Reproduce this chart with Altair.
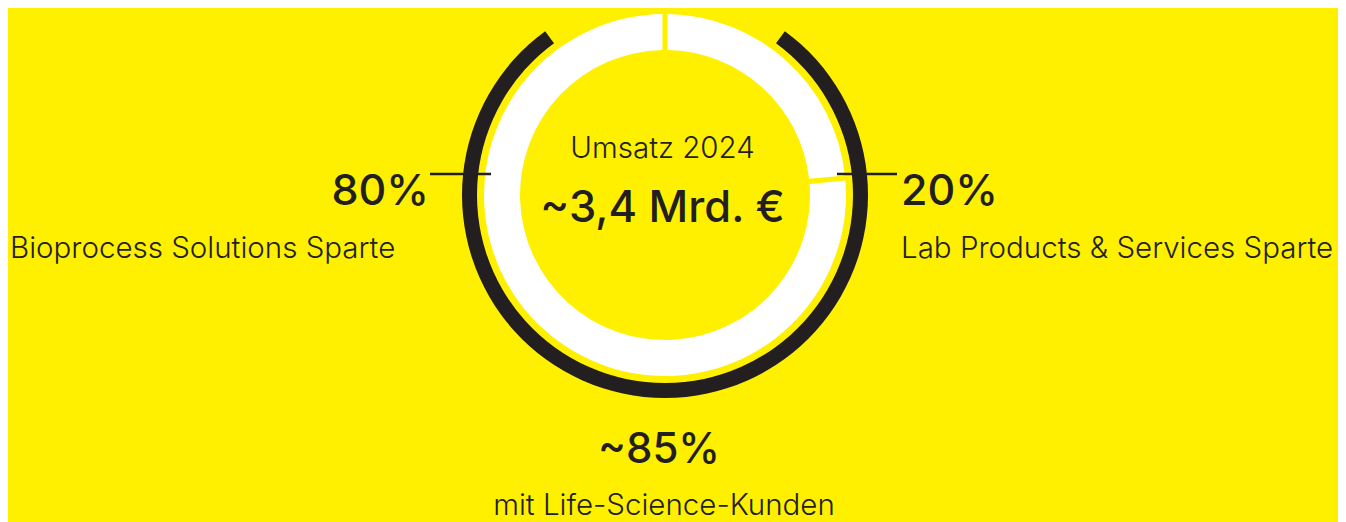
import math
import altair as alt
import pandas as pd

# ---- data ----
segments = ["Lab Products & Services", "Bioprocess Solutions"]
segment_share = [23.5, 76.5]          # share of the white ring as drawn
segment_order = [1, 2]

ring_parts = ["Lücke A", "Life-Science-Kunden", "Lücke B"]
ring_share = [10.05, 79.9, 10.05]      # black outer ring as drawn
ring_order = [1, 2, 3]

center_title = "Umsatz 2024"
center_value = "~3,4 Mrd. €"
left_pct = "80%"
left_label = "Bioprocess Solutions Sparte"
right_pct = "20%"
right_label = "Lab Products & Services Sparte"
bottom_pct = "~85%"
bottom_label = "mit Life-Science-Kunden"

YELLOW = "#FFF000"
DARK = "#231F20"
FONT = "Inter"

CX, CY = 657, 187
theta_scale = alt.Scale(domain=[0, 100], range=[0, 2 * math.pi])

seg_df = pd.DataFrame({"part": segments, "share": segment_share, "ord": segment_order})
ring_df = pd.DataFrame({"part": ring_parts, "share": ring_share, "ord": ring_order})

white = (
    alt.Chart(seg_df)
    .transform_stack(stack="share", as_=["t0", "t1"], groupby=[], sort=[alt.SortField("ord")])
    .mark_arc(radius=181, radius2=145, padAngle=0.022, color="#FFFFFF")
    .encode(
        theta=alt.Theta("t0:Q", scale=theta_scale),
        theta2="t1:Q",
        x=alt.value(CX),
        y=alt.value(CY),
    )
)

black = (
    alt.Chart(ring_df)
    .transform_stack(stack="share", as_=["t0", "t1"], groupby=[], sort=[alt.SortField("ord")])
    .transform_filter(alt.datum.part == "Life-Science-Kunden")
    .mark_arc(radius=203, radius2=188, color=DARK)
    .encode(
        theta=alt.Theta("t0:Q", scale=theta_scale),
        theta2="t1:Q",
        x=alt.value(CX),
        y=alt.value(CY),
    )
)

one = alt.Data(values=[{"a": 1}])
rule_left = alt.Chart(one).mark_rule(color=DARK, strokeWidth=2.5).encode(
    x=alt.value(422), x2=alt.value(483), y=alt.value(166)
)
rule_right = alt.Chart(one).mark_rule(color=DARK, strokeWidth=2.5).encode(
    x=alt.value(829), x2=alt.value(889), y=alt.value(166)
)


def label(txt, x, y, size, weight, align):
    return (
        alt.Chart(pd.DataFrame({"t": [txt]}))
        .mark_text(
            font=FONT,
            fontSize=size,
            fontWeight=weight,
            color=DARK,
            align=align,
            baseline="alphabetic",
        )
        .encode(text="t:N", x=alt.value(x), y=alt.value(y))
    )


texts = [
    label(center_title, 654.5, 150, 29.5, 300, "center"),
    label(center_value, 654.5, 214, 43.5, 500, "center"),
    label(left_pct, 421, 197, 43, 500, "right"),
    label(left_label, 2, 250, 29.5, 300, "left"),
    label(right_pct, 893, 197, 43, 500, "left"),
    label(right_label, 893, 250, 29.5, 300, "left"),
    label(bottom_pct, 651, 455, 42, 500, "center"),
    label(bottom_label, 656, 507, 29.5, 300, "center"),
]

chart = (
    alt.layer(black, white, rule_left, rule_right, *texts)
    .properties(
        width=1330,
        height=514,
        autosize=alt.AutoSizeParams(type="none"),
        padding=0,
        background=YELLOW,
    )
    .configure_view(stroke=None)
)

chart.save("out.html", embed_options={"renderer": "svg", "actions": False})
